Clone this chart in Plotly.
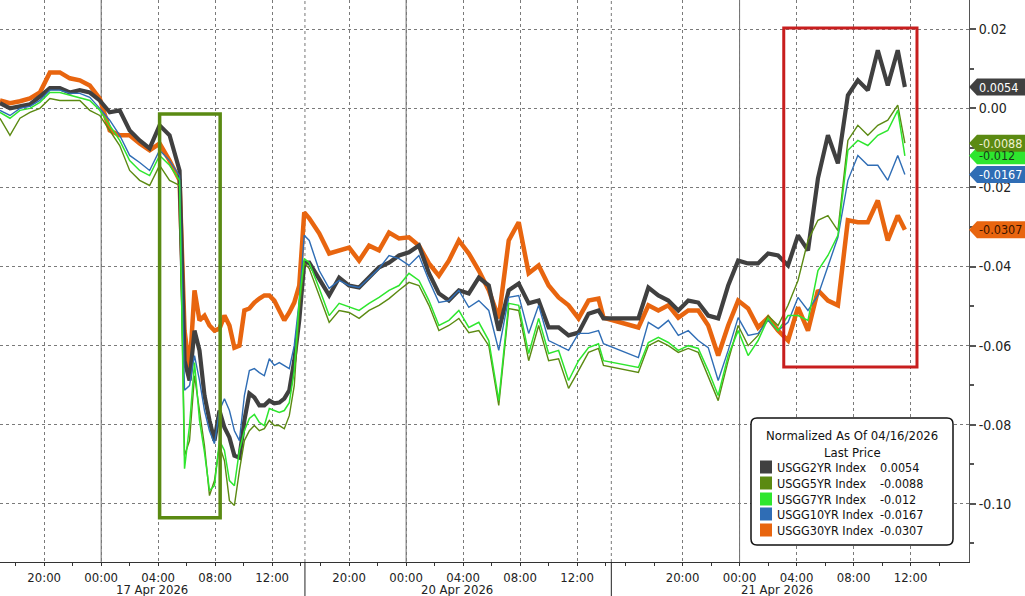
import plotly.graph_objects as go

# ---------------- data ----------------
# trading-clock hours since the start of the chart (16 Apr 2026, ~16:55)
hours = [0, 0.7, 1.4, 2.1, 2.8, 3.5, 4.2, 4.9, 5.6, 6.3, 7.0, 7.7, 8.4, 9.1, 9.8, 10.5, 11.2, 11.9,
         12.6, 12.95, 13.3, 13.65, 14.0, 14.35, 14.7, 15.05, 15.4, 15.75, 16.1, 16.45, 16.8, 17.15,
         17.5, 17.85, 18.2, 18.55, 18.9, 19.25, 19.6, 19.95, 20.3, 20.65, 21.0, 21.35, 21.7,
         22.4, 23.1, 23.8, 24.5, 25.2, 25.9, 26.6, 27.3, 28.0, 28.7, 29.4, 30.1, 30.8, 31.5, 32.2,
         32.9, 33.6, 34.3, 35.0, 35.7, 36.4, 37.1, 37.8, 38.5, 39.2, 39.9, 40.6, 41.3, 42.0,
         42.35,
         44.8, 45.5, 46.2, 46.9, 47.6, 48.3, 49.0, 49.7, 50.4, 51.1, 51.8, 52.5, 53.2, 53.9, 54.6,
         55.3, 56.0, 56.7, 57.4, 58.1, 58.8, 59.5, 60.2, 60.9, 61.6, 62.3, 63.0,
         63.5]

usgg2yr = [0.0013, 0.0, 0.0005, 0.0010, 0.0030, 0.0051, 0.0051, 0.0040, 0.0046, 0.0040, 0.0020, -0.0010, -0.0005, -0.0056, -0.0081, -0.0101, -0.0043, -0.0068,
           -0.0157, -0.0638, -0.0688, -0.0562, -0.0612, -0.0726, -0.0789, -0.0840, -0.0764, -0.0807, -0.0832, -0.0878, -0.0883, -0.0789,
           -0.0721, -0.0731, -0.0751, -0.0751, -0.0739, -0.0746, -0.0744, -0.0734, -0.0713, -0.0638, -0.0536, -0.0390, -0.0390,
           -0.0430, -0.0473, -0.0428, -0.0448, -0.0453, -0.0428, -0.0402, -0.0390, -0.0372, -0.0364, -0.0347, -0.0417, -0.0468, -0.0486, -0.0460,
           -0.0468, -0.0428, -0.0448, -0.0562, -0.0460, -0.0443, -0.0493, -0.0486, -0.0554, -0.0554, -0.0574, -0.0567, -0.0519, -0.0511,
           -0.0531,
           -0.0531, -0.0453, -0.0473, -0.0486, -0.0511, -0.0486, -0.0491, -0.0524, -0.0531, -0.0448, -0.0385, -0.0392, -0.0392, -0.0367, -0.0372,
           -0.0397, -0.0321, -0.0359, -0.0177, -0.0068, -0.0139, 0.0033, 0.0071, 0.0046, 0.0147, 0.0058, 0.0147,
           0.0054]

usgg5yr = [-0.0025, -0.0068, -0.0025, -0.0010, 0.0, 0.0025, 0.0020, 0.0020, 0.0020, -0.0005, -0.0018, -0.0056, -0.0094, -0.0157, -0.0182, -0.0195, -0.0144, -0.0182,
           -0.0195, -0.0878, -0.0840, -0.0676, -0.0764, -0.0853, -0.0979, -0.0941, -0.0853, -0.0891, -0.0992, -0.1004, -0.0916, -0.0840,
           -0.0815, -0.0802, -0.0815, -0.0810, -0.0789, -0.0802, -0.0802, -0.0810, -0.0777, -0.0701, -0.0511, -0.0390, -0.0405,
           -0.0473, -0.0541, -0.0511, -0.0516, -0.0531, -0.0511, -0.0498, -0.0481, -0.0460, -0.0440, -0.0448, -0.0498, -0.0562, -0.0549, -0.0531,
           -0.0567, -0.0562, -0.0600, -0.0751, -0.0506, -0.0511, -0.0638, -0.0549, -0.0638, -0.0633, -0.0708, -0.0663, -0.0617, -0.0607,
           -0.0650,
           -0.0668, -0.0600, -0.0587, -0.0600, -0.0617, -0.0607, -0.0617, -0.0676, -0.0739, -0.0638, -0.0549, -0.0600, -0.0574, -0.0524, -0.0549,
           -0.0498, -0.0435, -0.0334, -0.0283, -0.0271, -0.0309, -0.0081, -0.0043, -0.0068, -0.0043, -0.0030, 0.0008,
           -0.0088]

usgg7yr = [-0.0010, -0.0025, -0.0005, 0.0, 0.0015, 0.0040, 0.0040, 0.0033, 0.0028, 0.0020, -0.0005, -0.0043, -0.0081, -0.0132, -0.0157, -0.0170, -0.0119, -0.0144,
           -0.0182, -0.0911, -0.0802, -0.0643, -0.0789, -0.0870, -0.0966, -0.0954, -0.0840, -0.0865, -0.0941, -0.0954, -0.0865, -0.0815,
           -0.0784, -0.0774, -0.0794, -0.0802, -0.0759, -0.0764, -0.0769, -0.0764, -0.0744, -0.0663, -0.0486, -0.0380, -0.0390,
           -0.0455, -0.0524, -0.0493, -0.0503, -0.0511, -0.0493, -0.0478, -0.0460, -0.0448, -0.0417, -0.0435, -0.0486, -0.0549, -0.0536, -0.0511,
           -0.0554, -0.0541, -0.0587, -0.0739, -0.0493, -0.0498, -0.0620, -0.0531, -0.0620, -0.0612, -0.0688, -0.0638, -0.0605, -0.0595,
           -0.0638,
           -0.0655, -0.0592, -0.0579, -0.0592, -0.0612, -0.0600, -0.0607, -0.0663, -0.0726, -0.0625, -0.0562, -0.0625, -0.0587, -0.0531, -0.0562,
           -0.0524, -0.0524, -0.0536, -0.0410, -0.0372, -0.0321, -0.0106, -0.0081, -0.0094, -0.0068, -0.0056, -0.0005,
           -0.0120]

usgg10yr = [-0.0005, -0.0018, 0.0, 0.0005, 0.0020, 0.0046, 0.0046, 0.0038, 0.0038, 0.0028, 0.0, -0.0030, -0.0068, -0.0119, -0.0137, -0.0157, -0.0106, -0.0132,
            -0.0170, -0.0713, -0.0701, -0.0625, -0.0688, -0.0764, -0.0815, -0.0848, -0.0764, -0.0734, -0.0764, -0.0815, -0.0840, -0.0726,
            -0.0663, -0.0658, -0.0668, -0.0676, -0.0633, -0.0650, -0.0643, -0.0650, -0.0658, -0.0600, -0.0486, -0.0321, -0.0334,
            -0.0410, -0.0455, -0.0435, -0.0448, -0.0453, -0.0428, -0.0405, -0.0372, -0.0380, -0.0397, -0.0372, -0.0435, -0.0491, -0.0486, -0.0460,
            -0.0503, -0.0486, -0.0511, -0.0612, -0.0478, -0.0473, -0.0569, -0.0498, -0.0587, -0.0600, -0.0612, -0.0569, -0.0569, -0.0562,
            -0.0595,
            -0.0630, -0.0541, -0.0557, -0.0536, -0.0574, -0.0562, -0.0587, -0.0605, -0.0688, -0.0612, -0.0529, -0.0574, -0.0569, -0.0536, -0.0562,
            -0.0541, -0.0478, -0.0511, -0.0473, -0.0397, -0.0326, -0.0182, -0.0119, -0.0144, -0.0144, -0.0182, -0.0119,
            -0.0167]

usgg30yr = [0.0020, 0.0013, 0.0018, 0.0025, 0.0040, 0.0091, 0.0091, 0.0076, 0.0071, 0.0058, 0.0025, -0.0056, -0.0068, -0.0068, -0.0089, -0.0106, -0.0089, -0.0132,
            -0.0182, -0.0562, -0.0663, -0.0460, -0.0536, -0.0524, -0.0549, -0.0562, -0.0557, -0.0524, -0.0549, -0.0605, -0.0600, -0.0511,
            -0.0506, -0.0491, -0.0481, -0.0473, -0.0473, -0.0486, -0.0511, -0.0536, -0.0516, -0.0491, -0.0448, -0.0263, -0.0278,
            -0.0316, -0.0367, -0.0359, -0.0352, -0.0385, -0.0347, -0.0359, -0.0314, -0.0329, -0.0326, -0.0347, -0.0392, -0.0423, -0.0385, -0.0334,
            -0.0367, -0.0410, -0.0460, -0.0531, -0.0334, -0.0288, -0.0417, -0.0397, -0.0448, -0.0478, -0.0498, -0.0531, -0.0486, -0.0481,
            -0.0529,
            -0.0554, -0.0498, -0.0511, -0.0498, -0.0529, -0.0511, -0.0511, -0.0549, -0.0625, -0.0549, -0.0486, -0.0506, -0.0554, -0.0529, -0.0562,
            -0.0587, -0.0503, -0.0562, -0.0460, -0.0486, -0.0498, -0.0283, -0.0288, -0.0288, -0.0233, -0.0334, -0.0271,
            -0.0307]

names = ["USGG2YR Index", "USGG5YR Index", "USGG7YR Index", "USGG10YR Index", "USGG30YR Index"]
last_values = [0.0054, -0.0088, -0.012, -0.0167, -0.0307]
last_labels = ["0.0054", "-0.0088", "-0.012", "-0.0167", "-0.0307"]

tick_hours = [3.1, 7.1, 11.1, 15.1, 19.1, 24.5, 28.5, 32.5, 36.5, 40.5, 47.9, 51.9, 55.9, 59.9, 63.9]
tick_labels = ["20:00", "00:00", "04:00", "08:00", "12:00"] * 3
minor_hours = [1.1, 5.1, 9.1, 13.1, 17.1, 21.1, 22.5, 26.5, 30.5, 34.5, 38.5, 42.5,
               43.9, 45.9, 49.9, 53.9, 57.9, 61.9, 65.9]
midnight_hours = [7.1, 28.5, 51.9]
session_breaks = [21.4, 42.9]
date_labels = ["17 Apr 2026", "20 Apr 2026", "21 Apr 2026"]
date_hours = [10.7, 32.1, 54.5]

y_ticks = [0.02, 0.0, -0.02, -0.04, -0.06, -0.08, -0.10]
y_ticktext = ["0.02", "0.00", "-0.02", "-0.04", "-0.06", "-0.08", "-0.10"]
y_minor = [0.01, -0.01, -0.03, -0.05, -0.07, -0.09, -0.11]

# ---------------- style ----------------
FONT = "DejaVu Sans Condensed, Liberation Sans Narrow, DejaVu Sans, sans-serif"
W, H = 1025, 596
ML, MR, MT, MB = 0, 56, 0, 34
PW, PH = W - ML - MR, H - MT - MB
XMAX = 68.0
YMIN, YMAX = -0.1147, 0.0274

colors = ["#404040", "#5b8a12", "#2ee62e", "#2f6db5", "#e8650f"]
widths = [4.2, 1.4, 1.5, 1.4, 4.5]
text_colors = ["#ffffff", "#f0f0d0", "#1a3a1a", "#ffffff", "#3a1500"]
series = [usgg2yr, usgg5yr, usgg7yr, usgg10yr, usgg30yr]

fig = go.Figure()
draw_order = [4, 0, 1, 3, 2]
for i in draw_order:
    fig.add_trace(go.Scatter(x=hours, y=series[i], mode="lines", name=names[i],
                             line=dict(color=colors[i], width=widths[i]),
                             showlegend=False, hoverinfo="skip"))


def px_x(p):
    return p / PW


def px_y(p):
    return 1 - p / PH


def val_y(v):
    return (v - YMIN) / (YMAX - YMIN)


shapes = []
for h in midnight_hours:
    shapes.append(dict(type="line", xref="x", yref="paper", x0=h, x1=h, y0=0, y1=1,
                       line=dict(color="#6a6a6a", width=1), layer="below"))
for h in session_breaks:
    shapes.append(dict(type="line", xref="x", yref="paper", x0=h, x1=h, y0=0, y1=1,
                       line=dict(color="#777777", width=1, dash="dot"), layer="below"))
    shapes.append(dict(type="line", xref="x", yref="paper", x0=h, x1=h, y0=0, y1=-MB / PH,
                       line=dict(color="#222222", width=1)))

# highlight boxes
shapes.append(dict(type="rect", xref="x", yref="y", x0=11.2, x1=15.45, y0=-0.1035, y1=-0.0014,
                   line=dict(color="#5a8a12", width=3.5)))
shapes.append(dict(type="rect", xref="x", yref="y", x0=55.0, x1=64.35, y0=-0.0654, y1=0.0203,
                   line=dict(color="#c81e1e", width=3)))

annotations = []
tag_order = [2, 0, 1, 3, 4]
half = 8.5 / PH
for i in tag_order:
    yc = val_y(last_values[i])
    x0, x1, x2 = 1.0, px_x(977), px_x(W)
    path = (f"M {x0},{yc} L {x1},{yc + half} L {x2},{yc + half} "
            f"L {x2},{yc - half} L {x1},{yc - half} Z")
    shapes.append(dict(type="path", xref="paper", yref="paper", path=path,
                       fillcolor=colors[i], line=dict(width=0)))
    annotations.append(dict(x=px_x(977), y=yc, xref="paper", yref="paper", text=last_labels[i],
                            showarrow=False, xanchor="left", yanchor="middle",
                            font=dict(size=12.5, color=text_colors[i], family=FONT)))

# legend box
lx0, lx1, ly0, ly1 = px_x(751), px_x(953), px_y(545), px_y(418)
rx, ry = 6 / PW, 6 / PH
legend_path = (f"M {lx0 + rx},{ly1} L {lx1 - rx},{ly1} Q {lx1},{ly1} {lx1},{ly1 - ry} "
               f"L {lx1},{ly0 + ry} Q {lx1},{ly0} {lx1 - rx},{ly0} "
               f"L {lx0 + rx},{ly0} Q {lx0},{ly0} {lx0},{ly0 + ry} "
               f"L {lx0},{ly1 - ry} Q {lx0},{ly1} {lx0 + rx},{ly1} Z")
shapes.append(dict(type="path", xref="paper", yref="paper", path=legend_path,
                   fillcolor="white", line=dict(color="#111111", width=1.5)))
LEG_FONT = dict(size=12.5, color="#111", family=FONT)
annotations.append(dict(x=px_x(852), y=px_y(436), xref="paper", yref="paper",
                        text="Normalized As Of 04/16/2026", showarrow=False,
                        xanchor="center", yanchor="middle", font=dict(size=13, color="#111", family=FONT)))
annotations.append(dict(x=px_x(852), y=px_y(452), xref="paper", yref="paper",
                        text="Last Price", showarrow=False,
                        xanchor="center", yanchor="middle", font=dict(size=13, color="#111", family=FONT)))
row_px = [467, 483, 499, 514, 530]
for i in range(5):
    yc = px_y(row_px[i])
    sq = 6.5
    shapes.append(dict(type="rect", xref="paper", yref="paper",
                       x0=px_x(760), x1=px_x(772), y0=yc - sq / PH, y1=yc + sq / PH,
                       fillcolor=colors[i], line=dict(width=0)))
    annotations.append(dict(x=px_x(775), y=yc, xref="paper", yref="paper", text=names[i],
                            showarrow=False, xanchor="left", yanchor="middle", font=LEG_FONT))
    annotations.append(dict(x=px_x(878), y=yc, xref="paper", yref="paper", text=last_labels[i],
                            showarrow=False, xanchor="left", yanchor="middle", font=LEG_FONT))

# date labels under the time axis
for lab, h in zip(date_labels, date_hours):
    annotations.append(dict(x=h, y=-27 / PH, xref="x", yref="paper", text=lab,
                            showarrow=False, xanchor="center", yanchor="middle",
                            font=dict(size=13, color="#222", family=FONT)))

fig.update_layout(
    width=W, height=H,
    margin=dict(l=ML, r=MR, t=MT, b=MB, pad=0),
    plot_bgcolor="white", paper_bgcolor="white",
    showlegend=False,
    font=dict(family=FONT, size=13, color="#222"),
    shapes=shapes, annotations=annotations,
    xaxis=dict(range=[0, XMAX], tickmode="array", tickvals=tick_hours, ticktext=tick_labels,
               ticks="outside", ticklen=3, tickcolor="#333", tickwidth=1,
               showline=True, linecolor="#333", linewidth=1,
               showgrid=True, gridcolor="#7a7a7a", griddash="dot", gridwidth=1,
               zeroline=False, tickfont=dict(size=13, color="#222"),
               minor=dict(tickmode="array", tickvals=minor_hours, ticks="outside",
                          ticklen=3, tickcolor="#333", showgrid=False)),
    yaxis=dict(side="right", range=[YMIN, YMAX], tickmode="array", tickvals=y_ticks,
               ticktext=y_ticktext, ticks="outside", ticklen=6, tickwidth=2, tickcolor="#555",
               showline=True, linecolor="#555", linewidth=1,
               showgrid=True, gridcolor="#7a7a7a", griddash="dot", gridwidth=1,
               zeroline=False, tickfont=dict(size=14, color="#222"),
               minor=dict(tickmode="array", tickvals=y_minor, ticks="outside",
                          ticklen=4, tickcolor="#555", showgrid=False)),
)

fig.write_html("out.html", config={"displayModeBar": False})

# remove the browser's default page margin so the figure sits at the window origin
with open("out.html", "r", encoding="utf-8") as f:
    html = f.read()
html = html.replace("<head>", "<head><style>html,body{margin:0;padding:0;overflow:hidden;}</style>", 1)
with open("out.html", "w", encoding="utf-8") as f:
    f.write(html)
